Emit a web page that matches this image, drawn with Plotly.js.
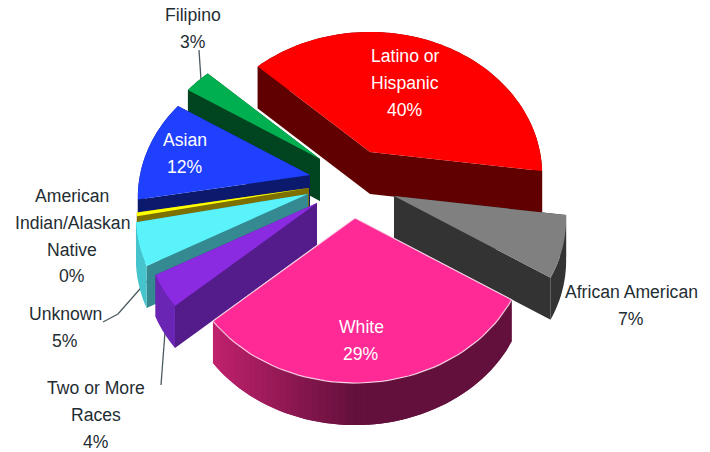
<!DOCTYPE html>
<html>
<head>
<meta charset="utf-8">
<script src="https://cdn.plot.ly/plotly-3.0.1.min.js"></script>
<style>html,body{margin:0;padding:0;background:#fff}#chart{width:710px;height:452px}</style>
</head>
<body>
<div id="chart"></div>
<script>
// ---- data (clockwise from the first slice) ----
const categories = ["Latino or<br>Hispanic", "African American", "White", "Two or More<br>Races", "Unknown", "American<br>Indian/Alaskan<br>Native", "Asian", "Filipino"];
const values = [40.2, 6.9, 29.4, 3.6, 4.8, 0.4, 11.8, 2.9];

// ---- exploded-slice offsets from the pie centre (px) ----
const pullX = [30, 54, 15, -23, -32, -31, -30, -20];
const pullY = [-38, 6, 28, 13, 4, -2, -15, -31];

// ---- colours ----
const topColors  = ["#ff0000", "#808080", "#ff2a95", "#8a2be2", "#5af3fb", "#ffff00", "#2040ff", "#00b050"];
const sideColors = ["#600000", "#333333", "#5a0f38", "#541b8b", "#348a90", "#7d7000", "#0c1a6e", "#00451f"];
const rimColors  = ["#600000", "#333333", null,      "#6a25b5", "#45c4ce", "#7d7000", "#0c1a6e", "#00451f"];
const paintOrder = [0, 7, 6, 5, 4, 3, 1, 2];

// ---- label placement ----
const labelX = [405, 631, 361, 96, 65, 72, 185, 193];
const labelY = [56, 292, 327, 388, 314, 196, 140, 15];
const labelInside = [true, false, true, false, false, false, true, false];
const labelPitch = 26.8;

// ---- leader lines ----
const leaderX = [[199, 201], [103, 118, 147], [161, 165]];
const leaderY = [[50, 80], [322, 314, 281], [385, 332]];

// ---- projection ----
const startDeg = -47, cx = 340, cy = 190, ax = 170, ay = 139, persp = 0.158, depth = 42;
function proj(tDeg) {
  const t = tDeg * Math.PI / 180, X = Math.sin(t), Y = Math.cos(t), d = 1 + persp * Y;
  return [ax * X / d, -ay * Y / d];
}
const total = values.reduce((a, b) => a + b, 0);
const traces = [];
function poly(xs, ys, color, lineW, lineC) {
  traces.push({type: "scatter", mode: lineW ? "lines" : "none", x: xs, y: ys, fill: "toself",
    fillcolor: color, line: {color: lineC || color, width: lineW || 0}, hoverinfo: "skip"});
}
function mix(a, b, f) {
  const p = c => [1, 3, 5].map(i => parseInt(c.substr(i, 2), 16));
  const A = p(a), B = p(b);
  return "rgb(" + A.map((v, i) => Math.round(v + (B[i] - v) * f)).join(",") + ")";
}
function whiteRim(x) {
  const f = Math.min(1, Math.max(0, (x - 212) / 150));
  return mix("#c4226f", "#64103c", f);
}

leaderX.forEach((lx, i) => traces.push({type: "scatter", mode: "lines", x: lx, y: leaderY[i],
  line: {color: "#4a5a60", width: 1.3}, hoverinfo: "skip"}));

let acc = startDeg;
const ranges = values.map(v => { const s = acc; acc += 360 * v / total; return [s, acc]; });

paintOrder.forEach(i => {
  const [a0, a1] = ranges[i], ox = cx + pullX[i], oy = cy + pullY[i];
  const n = Math.max(2, Math.ceil((a1 - a0) / 2));
  const ts = []; for (let k = 0; k <= n; k++) ts.push(a0 + (a1 - a0) * k / n);
  const rim = ts.map(t => { const p = proj(t); return [ox + p[0], oy + p[1]]; });
  // radial cut walls
  [rim[0], rim[n]].forEach(p => {
    poly([ox, p[0], p[0], ox, ox], [oy, p[1], p[1] + depth, oy + depth, oy], sideColors[i]);
  });
  // rim wall
  if (rimColors[i]) {
    const xs = rim.map(p => p[0]).concat(rim.map(p => p[0]).reverse());
    const ys = rim.map(p => p[1]).concat(rim.map(p => p[1] + depth).reverse());
    poly(xs, ys, rimColors[i]);
  } else {
    // gradient wall: each band overlaps the next so no seams show
    for (let k = n - 1; k >= 0; k--) {
      const a = rim[k], b = rim[k + 1], m = rim[Math.min(n, k + 2)], c = whiteRim((a[0] + b[0]) / 2);
      poly([a[0], b[0], m[0], m[0], b[0], a[0], a[0]], [a[1], b[1], m[1], m[1] + depth, b[1] + depth, a[1] + depth, a[1]], c);
    }
  }
  // top face
  const tx = [ox].concat(rim.map(p => p[0]), [ox]);
  const ty = [oy].concat(rim.map(p => p[1]), [oy]);
  if (i === 2) poly(tx, ty, topColors[i], 1.2, "rgba(255,235,245,0.8)");
  else poly(tx, ty, topColors[i]);
});

const annotations = [];
categories.forEach((c, i) => {
  const lines = c.split("<br>").concat([Math.round(values[i]) + "%"]);
  lines.forEach((txt, k) => annotations.push({
    text: txt, x: labelX[i], y: labelY[i] + k * labelPitch, xref: "x", yref: "y",
    showarrow: false, xanchor: "center", yanchor: "middle",
    font: {family: "Liberation Sans, Arial, sans-serif", size: 17.6, color: labelInside[i] ? "#ffffff" : "#1f2d33"}
  }));
});

Plotly.newPlot("chart", traces, {
  width: 710, height: 452, margin: {l: 0, r: 0, t: 0, b: 0},
  paper_bgcolor: "#ffffff", plot_bgcolor: "#ffffff", showlegend: false, hovermode: false,
  xaxis: {range: [0, 710], visible: false, fixedrange: true},
  yaxis: {range: [452, 0], visible: false, fixedrange: true},
  annotations: annotations
}, {displayModeBar: false, staticPlot: true});
</script>
</body>
</html>
